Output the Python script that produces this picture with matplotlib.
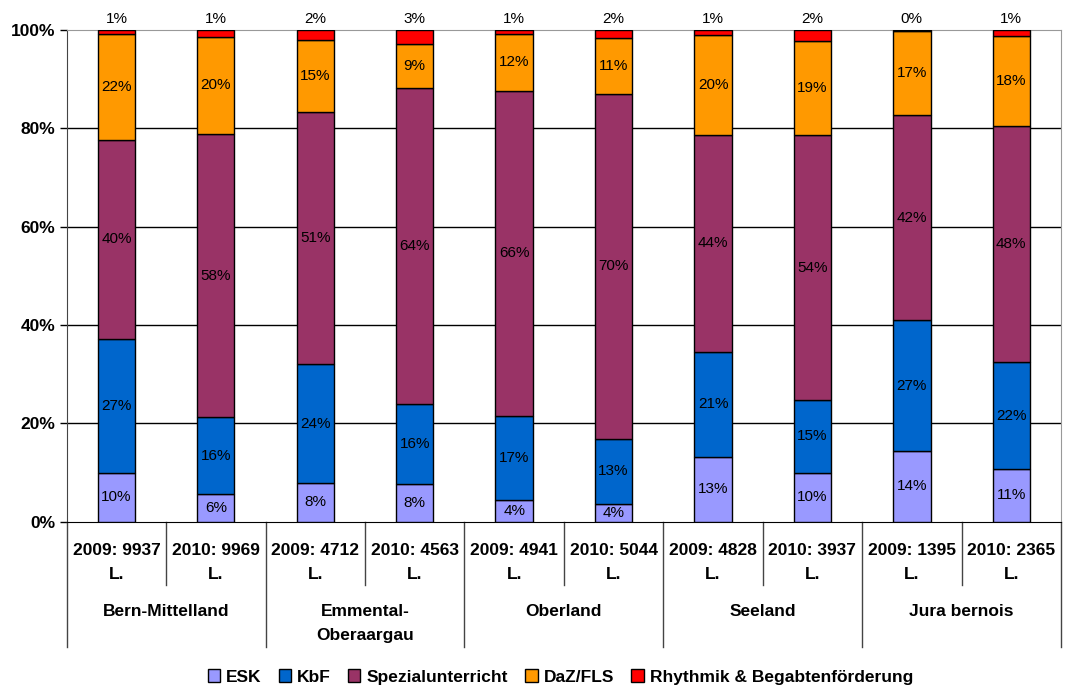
import numpy as np
import matplotlib.pyplot as plt
from matplotlib.patches import Patch
import matplotlib.transforms as mtransforms

plt.rcParams['font.family'] = ['Liberation Sans', 'DejaVu Sans']

# Daten (Anteile in %)
regions = ["Bern-Mittelland", "Emmental-\nOberaargau", "Oberland", "Seeland", "Jura bernois"]
bar_labels = ["2009: 9937", "2010: 9969", "2009: 4712", "2010: 4563", "2009: 4941",
              "2010: 5044", "2009: 4828", "2010: 3937", "2009: 1395", "2010: 2365"]
series = ["ESK", "KbF", "Spezialunterricht", "DaZ/FLS", "Rhythmik & Begabtenförderung"]
esk = [10.0, 5.6, 7.9, 7.6, 4.4, 3.7, 13.2, 10.0, 14.4, 10.7]
kbf = [27.2, 15.6, 24.1, 16.4, 17.1, 13.2, 21.4, 14.7, 26.6, 21.8]
spez = [40.4, 57.7, 51.3, 64.3, 66.1, 70.1, 44.1, 53.9, 41.7, 48.0]
daz = [21.6, 19.7, 14.6, 8.9, 11.6, 11.3, 20.3, 19.2, 17.1, 18.3]
rhythmik = [0.8, 1.4, 2.1, 2.8, 0.8, 1.7, 1.0, 2.2, 0.2, 1.2]
colors = ["#9999FF", "#0066CC", "#993366", "#FF9900", "#FF0000"]

data = [esk, kbf, spez, daz, rhythmik]
x = np.arange(len(bar_labels))

fig = plt.figure(figsize=(10.86, 6.88), dpi=100)
ax = fig.add_axes([0.0614, 0.2417, 0.9156, 0.7147])

bottom = np.zeros(len(x))
for k, (vals, col) in enumerate(zip(data, colors)):
    vals = np.array(vals)
    ax.bar(x, vals, 0.375, bottom=bottom, color=col, edgecolor='black', linewidth=1, zorder=3)
    for i, v in enumerate(vals):
        if k == len(data) - 1:
            ypos = 102.2
        else:
            ypos = bottom[i] + v / 2
        ax.text(x[i], ypos, f"{v:.0f}%", ha='center', va='center', fontsize=11,
                color='black', clip_on=False, zorder=4)
    bottom += vals

ax.set_xlim(-0.5, 9.5)
ax.set_ylim(0, 100)
ax.set_yticks([0, 20, 40, 60, 80, 100])
ax.set_yticklabels(["0%", "20%", "40%", "60%", "80%", "100%"], fontsize=12.5, fontweight='bold')
ax.tick_params(axis='y', length=5, width=1, pad=3)
ax.set_xticks([])
for yv in [20, 40, 60, 80]:
    ax.axhline(yv, color='black', linewidth=1, zorder=1)

ax.spines['top'].set_color('#999999')
ax.spines['right'].set_color('#999999')
ax.spines['left'].set_color('#444444')
ax.spines['bottom'].set_color('black')

# Mehrstufige x-Achse
trans = mtransforms.blended_transform_factory(ax.transData, ax.transAxes)
for b in np.arange(-0.5, 10, 1.0):
    long_line = (int(b + 0.5) % 2 == 0)
    y_end = -0.255 if long_line else -0.129
    ax.plot([b, b], [0, y_end], color='#444444', linewidth=1, transform=trans, clip_on=False)

for i, lab in enumerate(bar_labels):
    ax.text(x[i], -0.058, lab, transform=trans, ha='center', va='center',
            fontsize=12.5, fontweight='bold')
    ax.text(x[i], -0.108, "L.", transform=trans, ha='center', va='center',
            fontsize=12.5, fontweight='bold')

for j, reg in enumerate(regions):
    for n, line in enumerate(reg.split("\n")):
        ax.text(2 * j + 0.5, -0.183 - 0.049 * n, line, transform=trans, ha='center',
                va='center', fontsize=12.5, fontweight='bold')

handles = [Patch(facecolor=c, edgecolor='black', linewidth=1) for c in colors]
fig.legend(handles, series, loc='center', bbox_to_anchor=(0.516, 0.016), ncol=5,
           frameon=False, prop={'weight': 'bold', 'size': 12.5},
           handlelength=0.7, handleheight=0.7, handletextpad=0.35, columnspacing=1.0)

fig.savefig("out.png", dpi=100)
